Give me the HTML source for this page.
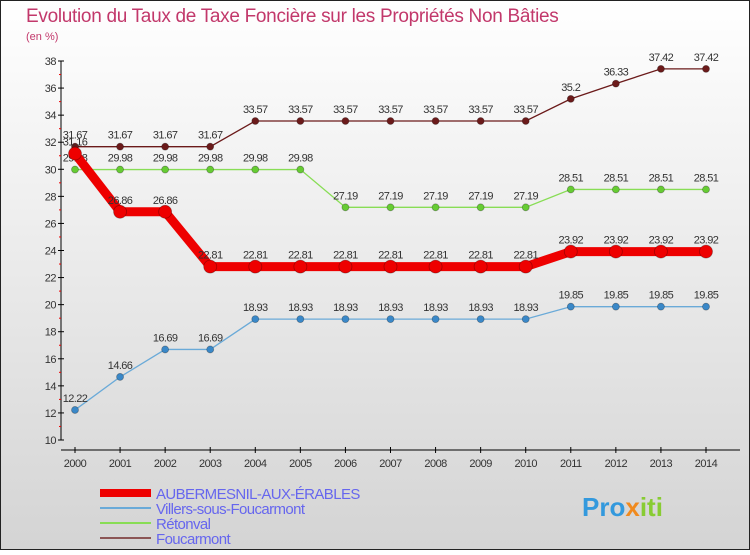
<!DOCTYPE html>
<html><head><meta charset="utf-8"><style>
html,body{margin:0;padding:0;}
body{width:750px;height:550px;overflow:hidden;font-family:"Liberation Sans",sans-serif;}
</style></head><body>
<svg width="750" height="550" xmlns="http://www.w3.org/2000/svg" id="svg">
<defs><linearGradient id="bg" x1="0" y1="0" x2="0" y2="1"><stop offset="0" stop-color="#ffffff"/><stop offset="1" stop-color="#d4d4d4"/></linearGradient></defs>
<rect x="0.5" y="0.5" width="749" height="549" fill="url(#bg)" stroke="#222" stroke-width="1"/>
<text x="26" y="22" font-size="19" fill="#c2386b" letter-spacing="-0.3">Evolution du Taux de Taxe Foncière sur les Propriétés Non Bâties</text>
<text x="26" y="40" font-size="11" fill="#c2386b">(en %)</text>
<g id="axes"></g><g id="series"></g><g id="legend"></g>
<text x="582" y="516" font-size="26" font-weight="bold" fill="#3399dd">Pro<tspan fill="#f08a1e">x</tspan><tspan fill="#88cc33">iti</tspan></text>
</svg>
<script>
const years=["2000","2001","2002","2003","2004","2005","2006","2007","2008","2009","2010","2011","2012","2013","2014"];
const yTicks=[10,12,14,16,18,20,22,24,26,28,30,32,34,36,38];
const seriesNames=["AUBERMESNIL-AUX-ÉRABLES","Villers-sous-Foucarmont","Rétonval","Foucarmont"];
const aubermesnil=[31.16,26.86,26.86,22.81,22.81,22.81,22.81,22.81,22.81,22.81,22.81,23.92,23.92,23.92,23.92];
const villers=[12.22,14.66,16.69,16.69,18.93,18.93,18.93,18.93,18.93,18.93,18.93,19.85,19.85,19.85,19.85];
const retonval=[29.98,29.98,29.98,29.98,29.98,29.98,27.19,27.19,27.19,27.19,27.19,28.51,28.51,28.51,28.51];
const foucarmont=[31.67,31.67,31.67,31.67,33.57,33.57,33.57,33.57,33.57,33.57,33.57,35.2,36.33,37.42,37.42];
const NS="http://www.w3.org/2000/svg";
const X=i=>75+i*(706-75)/(years.length-1);
const Y=v=>440-(v-10)*(440-61)/28;
function mk(tag,attrs,parent,txt){const e=document.createElementNS(NS,tag);for(const k in attrs)e.setAttribute(k,attrs[k]);if(txt!==undefined)e.textContent=txt;parent.appendChild(e);return e;}
const ax=document.getElementById('axes');
let e=mk('line',{x1:61,y1:61,x2:61,y2:440,stroke:'#000'},ax);

e=mk('line',{x1:61,y1:450,x2:740,y2:450,stroke:'#000'},ax);

yTicks.forEach((t,i)=>{const y=Y(t);mk('line',{x1:58,y1:y,x2:64,y2:y,stroke:'#000'},ax);
 if(i<yTicks.length-1){const ym=Y(t+1);mk('line',{x1:59,y1:ym,x2:61,y2:ym,stroke:'#e00'},ax);}
 e=mk('text',{x:56,y:y+4,'font-size':11,'text-anchor':'end',fill:'#333','letter-spacing':'-0.5'},ax,t);
 });
years.forEach((yr,i)=>{const x=X(i);mk('line',{x1:x,y1:447,x2:x,y2:453,stroke:'#000'},ax);
 e=mk('text',{x:x,y:467,'font-size':11,'text-anchor':'middle',fill:'#333','letter-spacing':'-0.5'},ax,yr);
 });
const sg=document.getElementById('series');
const defs=[[foucarmont,'#6b1a1a','#6b1a1a',1.3,3.5,'foucarmont'],[retonval,'#88dd55','#66cc33',1.3,3.5,'retonval'],[villers,'#6aaad8','#3a88c8',1.3,3.5,'villers'],[aubermesnil,'#ee0000','#ee0000',9,6.5,'aubermesnil']];
defs.forEach(([d,lc,pc,w,r,nm])=>{const pts=d.map((v,i)=>X(i)+','+Y(v)).join(' ');
 e=mk('polyline',{points:pts,fill:'none',stroke:lc,'stroke-width':w},sg);
 
 d.forEach((v,i)=>{e=mk('circle',{cx:X(i),cy:Y(v),r:r,fill:pc,stroke:'rgba(0,0,0,0.3)','stroke-width':0.8},sg);
  
  e=mk('text',{x:X(i),y:Y(v)-8,'font-size':11,'text-anchor':'middle',fill:'#333','letter-spacing':'-0.6'},sg,String(v));
  });});
const lg=document.getElementById('legend');
const lcol=['#ee0000','#6aaad8','#88dd55','#8b5555'],lw=[8,2,2,2];
seriesNames.forEach((n,i)=>{const y=493+i*15;
 e=mk('line',{x1:100,y1:y,x2:151,y2:y,stroke:lcol[i],'stroke-width':lw[i]},lg);
 
 e=mk('text',{x:156,y:y+6,'font-size':15,fill:'#6666ee','letter-spacing':'-0.6'},lg,n);
 });
</script>
</body></html>
